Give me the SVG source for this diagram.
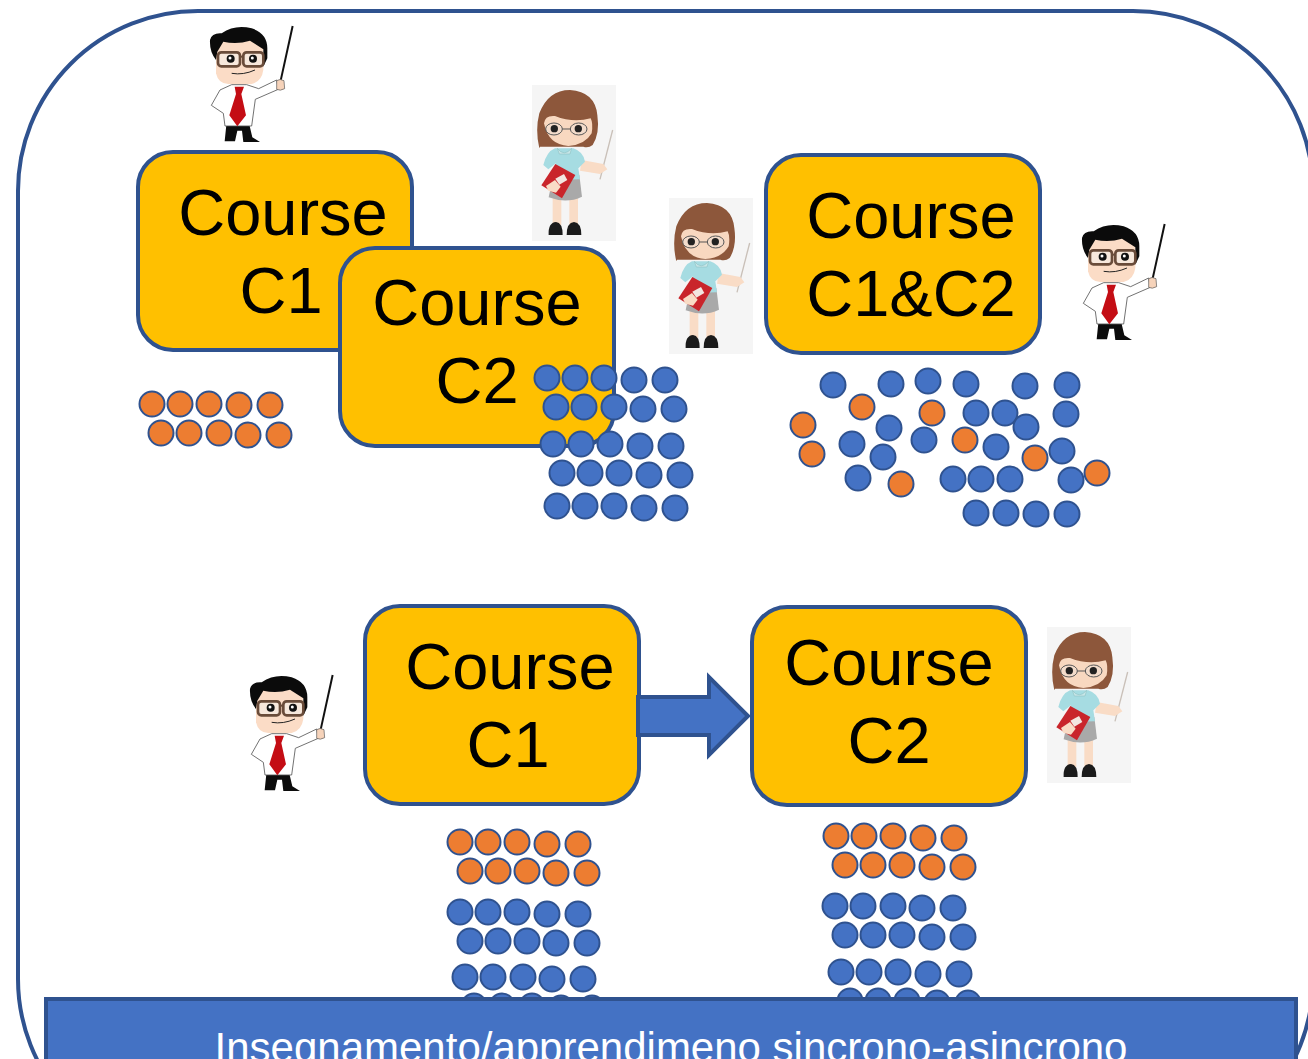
<svg xmlns="http://www.w3.org/2000/svg" width="1308" height="1059" viewBox="0 0 1308 1059">
<style>
.course{fill:#ffc000;stroke:#2f528f;stroke-width:4}
.t{font-family:"Liberation Sans",Arial,sans-serif;font-size:65px;fill:#000;text-anchor:middle}
.o circle{fill:#ed7d31;stroke:#2f528f;stroke-width:2}
.b circle{fill:#4472c4;stroke:#2f528f;stroke-width:2}
.o circle,.b circle{r:12.5px}
</style>
<defs>
<g id="man">
<path d="M338 48L302 212" stroke="#111" stroke-width="6" fill="none"/>
<path d="M140 335L134 394H165L172 362H186L190 396H240L217 382L206 335Z" fill="#0c0c0c"/>
<path d="M155 224L120 240L94 286L130 310L135 348H215L226 268L295 238L290 210L236 236L200 224Z" fill="#fff" stroke="#555" stroke-width="2.5"/>
<path d="M290 212Q300 205 312 212L314 236Q300 244 290 238Z" fill="#f6d3ba" stroke="#555" stroke-width="2"/>
<path d="M164 230L192 230L184 252L198 316L172 349L148 316L168 252Z" fill="#c40d14"/>
<path d="M108 120L108 190Q115 222 145 222H215Q245 215 250 180L250 110L200 85L130 90Z" fill="#fbdcc6"/>
<path d="M108 150Q88 125 90 90Q95 68 125 70Q165 42 215 55Q262 70 262 115L262 145L250 170L250 118L210 92Q170 105 130 95L112 125Z" fill="#0b0b0b"/>
<rect x="114" y="127" width="66" height="42" rx="10" fill="#f7e8dc" stroke="#6a4c3a" stroke-width="8"/>
<rect x="190" y="127" width="60" height="42" rx="10" fill="#f7e8dc" stroke="#6a4c3a" stroke-width="8"/>
<path d="M180 140H190" stroke="#6a4c3a" stroke-width="6"/>
<circle cx="152" cy="146" r="12" fill="#111"/><circle cx="219" cy="146" r="12" fill="#111"/>
<circle cx="150" cy="144" r="4.5" fill="#fff"/><circle cx="217" cy="144" r="4.5" fill="#fff"/>
<path d="M155 190Q190 196 225 180" fill="none" stroke="#222" stroke-width="3"/>
</g>
<g id="woman">
<rect x="36" y="15" width="252" height="468" fill="#f5f5f5"/>
<path d="M278 150L240 298" stroke="#c9c0b8" stroke-width="4"/>
<rect x="98" y="345" width="26" height="90" fill="#f9dcc6"/><rect x="148" y="345" width="26" height="90" fill="#f9dcc6"/>
<path d="M86 465Q84 428 108 426Q128 428 128 465Z" fill="#1b1b1b"/><path d="M140 465Q140 428 162 426Q184 428 184 465Z" fill="#1b1b1b"/>
<path d="M100 285L178 285L186 350Q140 372 86 352Z" fill="#a9a9a9"/>
<path d="M185 240L250 252L262 268L240 282L180 272Z" fill="#f9dcc6"/>
<path d="M105 205L160 205Q190 215 195 245L175 265L180 298L100 300L108 250L85 268L70 255Q80 215 105 205Z" fill="#a6dce2"/>
<path d="M112 205Q132 232 155 205L150 222H118Z" fill="#c7e6e8" stroke="#8bb" stroke-width="1.5"/>
<path d="M64 316L106 252L166 285L126 355Z" fill="#c9252b"/>
<path d="M106 296L132 282L142 300L118 314Z" fill="#f2e6e0"/>
<path d="M78 318L105 300L122 320L108 338L85 332Z" fill="#f9dcc6"/>
<path d="M58 205Q45 150 58 100Q85 30 150 30Q225 35 232 105Q240 160 218 195Q205 205 190 200L60 200Z" fill="#8d573b"/>
<path d="M72 130Q75 105 105 108Q160 130 212 115Q220 130 215 160Q195 195 145 198Q85 195 72 130Z" fill="#f8d8c0"/>
<ellipse cx="102" cy="147" rx="25" ry="18" fill="#f3dccb" stroke="#555" stroke-width="3"/>
<ellipse cx="176" cy="147" rx="25" ry="18" fill="#f3dccb" stroke="#555" stroke-width="3"/>
<path d="M127 147H151" stroke="#555" stroke-width="3"/>
<circle cx="103" cy="146" r="11" fill="#222"/><circle cx="175" cy="146" r="11" fill="#222"/>
</g>
</defs>
<rect width="1308" height="1059" fill="#fff"/>
<rect id="frame" x="18" y="11" width="1295" height="1148" rx="180" fill="#fff" stroke="#2f528f" stroke-width="4"/>
<g id="course-c1-top"><rect class="course" x="138" y="152" width="274" height="198" rx="35"/><text class="t" x="283" y="235">Course</text><text class="t" x="281" y="313">C1</text></g>
<g id="course-c2-top"><rect class="course" x="340" y="248" width="274" height="198" rx="35"/><text class="t" x="477" y="325">Course</text><text class="t" x="477" y="403">C2</text></g>
<g id="course-c1c2"><rect class="course" x="766" y="155" width="274" height="198" rx="35"/><text class="t" x="911" y="238">Course</text><text class="t" x="911" y="316">C1&amp;C2</text></g>
<g id="course-c1-bottom"><rect class="course" x="365" y="606" width="274" height="198" rx="35"/><text class="t" x="510" y="689">Course</text><text class="t" x="508" y="767">C1</text></g>
<g id="course-c2-bottom"><rect class="course" x="752" y="607" width="274" height="198" rx="35"/><text class="t" x="889" y="685">Course</text><text class="t" x="889" y="763">C2</text></g>
<g id="connectors"><path d="M638 697H709V677L748 716L709 755V735H638Z" fill="#4472c4" stroke="#2f528f" stroke-width="4"/></g>
<g id="teacher-1"><use href="#man" transform="translate(180 10) scale(.3333)"/></g>
<g id="teacher-2"><use href="#woman" transform="translate(520 80) scale(.3333)"/></g>
<g id="teacher-3"><use href="#woman" transform="translate(657 193) scale(.3333)"/></g>
<g id="teacher-4"><use href="#man" transform="translate(1052 208) scale(.3333)"/></g>
<g id="teacher-5"><use href="#man" transform="translate(220 659) scale(.3333)"/></g>
<g id="teacher-6"><use href="#woman" transform="translate(1035 622) scale(.3333)"/></g>
<g id="students-orange-top" class="o">
<circle cx="152" cy="404"/><circle cx="180" cy="404"/><circle cx="209" cy="404"/><circle cx="239" cy="405"/><circle cx="270" cy="405"/>
<circle cx="161" cy="433"/><circle cx="189" cy="433"/><circle cx="219" cy="433"/><circle cx="248" cy="435"/><circle cx="279" cy="435"/>
</g>
<g id="students-blue-top" class="b">
<circle cx="547" cy="378"/><circle cx="575" cy="378"/><circle cx="604" cy="378"/><circle cx="634" cy="380"/><circle cx="665" cy="380"/>
<circle cx="556" cy="407"/><circle cx="584" cy="407"/><circle cx="614" cy="407"/><circle cx="643" cy="409"/><circle cx="674" cy="409"/>
<circle cx="553" cy="444"/><circle cx="581" cy="444"/><circle cx="610" cy="444"/><circle cx="640" cy="446"/><circle cx="671" cy="446"/>
<circle cx="562" cy="473"/><circle cx="590" cy="473"/><circle cx="619" cy="473"/><circle cx="649" cy="475"/><circle cx="680" cy="475"/>
<circle cx="557" cy="506"/><circle cx="585" cy="506"/><circle cx="614" cy="506"/><circle cx="644" cy="508"/><circle cx="675" cy="508"/>
</g>
<g id="students-mixed-blue" class="b">
<circle cx="833" cy="385"/><circle cx="891" cy="384"/><circle cx="928" cy="381"/><circle cx="966" cy="384"/><circle cx="1025" cy="386"/><circle cx="1067" cy="385"/>
<circle cx="976" cy="413"/><circle cx="1005" cy="413"/><circle cx="1066" cy="414"/><circle cx="1026" cy="427"/><circle cx="889" cy="428"/><circle cx="852" cy="444"/>
<circle cx="924" cy="440"/><circle cx="996" cy="447"/><circle cx="1062" cy="451"/><circle cx="883" cy="457"/><circle cx="858" cy="478"/>
<circle cx="953" cy="479"/><circle cx="981" cy="479"/><circle cx="1010" cy="479"/><circle cx="1071" cy="480"/>
<circle cx="976" cy="513"/><circle cx="1006" cy="513"/><circle cx="1036" cy="514"/><circle cx="1067" cy="514"/>
</g>
<g id="students-mixed-orange" class="o">
<circle cx="862" cy="407"/><circle cx="932" cy="413"/><circle cx="803" cy="425"/><circle cx="812" cy="454"/><circle cx="965" cy="440"/><circle cx="1035" cy="458"/><circle cx="901" cy="484"/><circle cx="1097" cy="473"/>
</g>
<g id="students-c1-orange" class="o">
<circle cx="460" cy="842"/><circle cx="488" cy="842"/><circle cx="517" cy="842"/><circle cx="547" cy="844"/><circle cx="578" cy="844"/>
<circle cx="470" cy="871"/><circle cx="498" cy="871"/><circle cx="527" cy="871"/><circle cx="556" cy="873"/><circle cx="587" cy="873"/>
</g>
<g id="students-c1-blue" class="b">
<circle cx="460" cy="912"/><circle cx="488" cy="912"/><circle cx="517" cy="912"/><circle cx="547" cy="914"/><circle cx="578" cy="914"/>
<circle cx="470" cy="941"/><circle cx="498" cy="941"/><circle cx="527" cy="941"/><circle cx="556" cy="943"/><circle cx="587" cy="943"/>
<circle cx="465" cy="977"/><circle cx="493" cy="977"/><circle cx="523" cy="977"/><circle cx="552" cy="979"/><circle cx="583" cy="979"/>
<circle cx="474" cy="1006"/><circle cx="502" cy="1006"/><circle cx="532" cy="1006"/><circle cx="561" cy="1008"/><circle cx="592" cy="1008"/>
</g>
<g id="students-c2-orange" class="o">
<circle cx="836" cy="836"/><circle cx="864" cy="836"/><circle cx="893" cy="836"/><circle cx="923" cy="838"/><circle cx="954" cy="838"/>
<circle cx="845" cy="865"/><circle cx="873" cy="865"/><circle cx="902" cy="865"/><circle cx="932" cy="867"/><circle cx="963" cy="867"/>
</g>
<g id="students-c2-blue" class="b">
<circle cx="835" cy="906"/><circle cx="863" cy="906"/><circle cx="893" cy="906"/><circle cx="922" cy="908"/><circle cx="953" cy="908"/>
<circle cx="845" cy="935"/><circle cx="873" cy="935"/><circle cx="902" cy="935"/><circle cx="932" cy="937"/><circle cx="963" cy="937"/>
<circle cx="841" cy="972"/><circle cx="869" cy="972"/><circle cx="898" cy="972"/><circle cx="928" cy="974"/><circle cx="959" cy="974"/>
<circle cx="850" cy="1001"/><circle cx="878" cy="1001"/><circle cx="907" cy="1001"/><circle cx="937" cy="1003"/><circle cx="968" cy="1003"/>
</g>
<g id="banner"><rect x="46" y="999" width="1250" height="120" fill="#4472c4" stroke="#2f528f" stroke-width="4"/>
<text x="671" y="1062" font-family="'Liberation Sans',Arial,sans-serif" font-size="42" fill="#fff" text-anchor="middle">Insegnamento/apprendimeno sincrono-asincrono</text></g>
</svg>
